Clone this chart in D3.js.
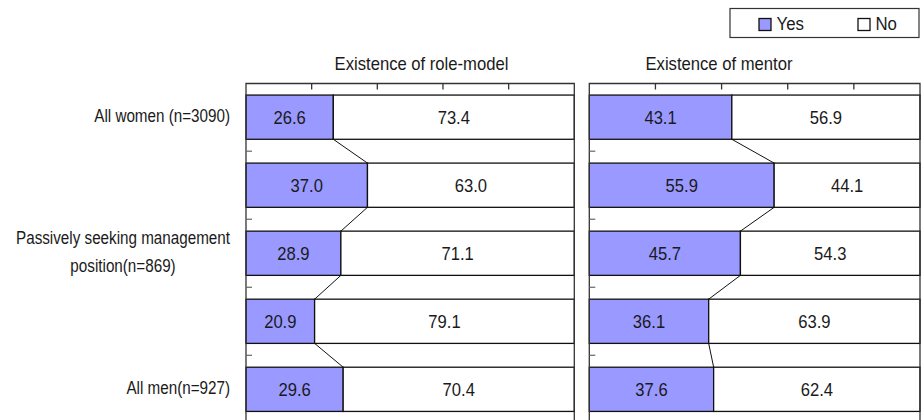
<!DOCTYPE html>
<html>
<head>
<meta charset="utf-8">
<script src="https://cdn.jsdelivr.net/npm/d3@7"></script>
<style>
  html, body { margin: 0; padding: 0; background: #fff; }
  svg { display: block; }
  text { font-family: "Liberation Sans", Arial, sans-serif; fill: #1a1a1a; }
</style>
</head>
<body>
<svg id="chart" width="922" height="420"></svg>
<script>
// Category tick labels (lines of each wrapped label; empty rows carry no label)
const categoryLabels = [
  ["All women (n=3090)"],
  [],
  ["Passively seeking management", "position(n=869)"],
  [],
  ["All men(n=927)"]
];
const seriesNames = ["Yes", "No"];
const panelTitles = ["Existence of role-model", "Existence of mentor"];

// Shares (%) per category
const roleModelYes = [26.6, 37.0, 28.9, 20.9, 29.6];
const roleModelNo  = [73.4, 63.0, 71.1, 79.1, 70.4];
const mentorYes    = [43.1, 55.9, 45.7, 36.1, 37.6];
const mentorNo     = [56.9, 44.1, 54.3, 63.9, 62.4];

const valueTicks = [0, 20, 40, 60, 80, 100];

const colors = { Yes: "#9999ff", No: "#ffffff" };
const fmt = d3.format(".1f");

const svg = d3.select("#chart");

// Layout
const plotTop = 83.5, plotBottom = 423;
const panels = [
  { title: panelTitles[0], yes: roleModelYes, no: roleModelNo, x0: 246, x1: 574.3, titleX: 421.5 },
  { title: panelTitles[1], yes: mentorYes,    no: mentorNo,    x0: 589.3, x1: 920, titleX: 719 }
];

const y = d3.scaleBand()
  .domain(d3.range(categoryLabels.length))
  .range([plotTop, plotBottom])
  .paddingInner(0.35)
  .paddingOuter(0.17);
const bw = y.bandwidth();
const gapHalf = (y.step() - bw) / 2;

// Horizontally condensed text helper
function condensedText(parent, x, yPos, str, size, sx, anchor) {
  const g = parent.append("g").attr("transform", `translate(${x},${yPos}) scale(${sx},1)`);
  return g.append("text")
    .attr("text-anchor", anchor || "middle")
    .style("font-size", size + "px")
    .text(str);
}

panels.forEach(p => {
  const x = d3.scaleLinear().domain([0, 100]).range([p.x0, p.x1]);
  const g = svg.append("g");

  const rows = categoryLabels.map((_, i) => ({ i, Yes: p.yes[i], No: p.no[i] }));
  const stacked = d3.stack().keys(seriesNames)(rows);

  // Bars
  stacked.forEach(layer => {
    g.append("g").selectAll("rect")
      .data(layer)
      .join("rect")
      .attr("x", d => x(d[0]))
      .attr("y", d => y(d.data.i))
      .attr("width", d => x(d[1]) - x(d[0]))
      .attr("height", bw)
      .attr("fill", colors[layer.key])
      .attr("stroke", "#111")
      .attr("stroke-width", 1.3);
  });

  // Series lines joining the Yes/No boundary between neighbouring bars
  g.append("g").selectAll("line")
    .data(d3.range(rows.length - 1))
    .join("line")
    .attr("x1", i => x(p.yes[i]))
    .attr("y1", i => y(i) + bw)
    .attr("x2", i => x(p.yes[i + 1]))
    .attr("y2", i => y(i + 1))
    .attr("stroke", "#111")
    .attr("stroke-width", 1);

  // Plot frame (top, left, right)
  g.append("path")
    .attr("d", `M${p.x0},${plotBottom}V${plotTop}H${p.x1}V${plotBottom}`)
    .attr("fill", "none")
    .attr("stroke", "#333")
    .attr("stroke-width", 1.3);

  // Value axis ticks along the top edge
  g.append("g").selectAll("line")
    .data(valueTicks.slice(1, -1))
    .join("line")
    .attr("x1", d => x(d)).attr("x2", d => x(d))
    .attr("y1", plotTop).attr("y2", plotTop + 6)
    .attr("stroke", "#333")
    .attr("stroke-width", 1.3);

  // Category ticks between bands on the left edge
  g.append("g").selectAll("line")
    .data(d3.range(1, rows.length))
    .join("line")
    .attr("x1", p.x0).attr("x2", p.x0 + 6)
    .attr("y1", i => y(i) - gapHalf).attr("y2", i => y(i) - gapHalf)
    .attr("stroke", "#666")
    .attr("stroke-width", 1.2);

  // Value labels centred in each segment
  stacked.forEach(layer => {
    layer.forEach(d => {
      condensedText(g, (x(d[0]) + x(d[1])) / 2, y(d.data.i) + bw / 2 + 6.5,
        fmt(d[1] - d[0]), 17.5, 0.95, "middle");
    });
  });

  // Panel title
  condensedText(g, p.titleX, 70, p.title, 18.5, 0.9, "middle");
});

// Category labels, right edge of each block at x = 230, lines centred in the block
const labelRight = 230, lineGap = 28, labelSize = 17.5, labelSx = 0.87;
categoryLabels.forEach((lines, i) => {
  if (!lines.length) return;
  const cy = y(i) + bw / 2 + 4.5;
  const g = svg.append("g");
  const nodes = lines.map((ln, k) =>
    condensedText(g, 0, cy + (k - (lines.length - 1) / 2) * lineGap, ln, labelSize, labelSx, "middle"));
  const widths = nodes.map(n => n.node().getComputedTextLength() * labelSx);
  const blockW = d3.max(widths);
  const cx = labelRight - blockW / 2;
  nodes.forEach((n, k) => {
    d3.select(n.node().parentNode)
      .attr("transform", `translate(${cx},${cy + (k - (lines.length - 1) / 2) * lineGap}) scale(${labelSx},1)`);
  });
});

// Legend
const legend = svg.append("g");
legend.append("rect")
  .attr("x", 730).attr("y", 8.5)
  .attr("width", 189).attr("height", 29)
  .attr("fill", "#fff").attr("stroke", "#333").attr("stroke-width", 1.2);
const legendX = d3.scalePoint().domain(seriesNames).range([759, 858]);
seriesNames.forEach(name => {
  legend.append("rect")
    .attr("x", legendX(name)).attr("y", 18.5)
    .attr("width", 12).attr("height", 12)
    .attr("fill", colors[name]).attr("stroke", "#111").attr("stroke-width", 1.3);
  condensedText(legend, legendX(name) + 17.5, 29.5, name, 17.5, 0.96, "start");
});
</script>
</body>
</html>
